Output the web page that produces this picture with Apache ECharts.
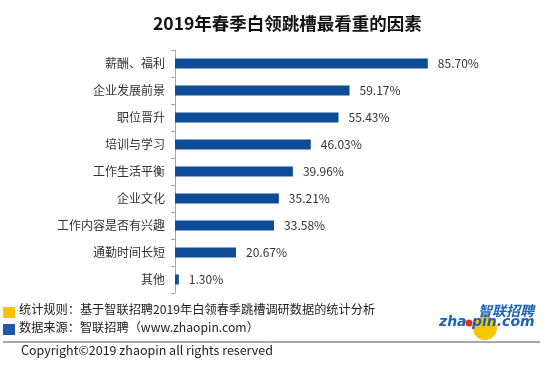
<!DOCTYPE html>
<html><head><meta charset="utf-8">
<script src="https://cdn.jsdelivr.net/npm/echarts@6/dist/echarts.min.js"></script>
<style>html,body{margin:0;padding:0;background:#fff}#c{width:550px;height:371px}</style>
</head><body><div id="c"></div>
<script>
const categories = ['薪酬、福利','企业发展前景','职位晋升','培训与学习','工作生活平衡','企业文化','工作内容是否有兴趣','通勤时间长短','其他'];
const values = [85.70, 59.17, 55.43, 46.03, 39.96, 35.21, 33.58, 20.67, 1.30];
const titleText = '2019年春季白领跳槽最看重的因素';
const note1 = '统计规则：基于智联招聘2019年白领春季跳槽调研数据的统计分析';
const note2 = '数据来源：智联招聘（www.zhaopin.com）';
const copyright = 'Copyright©2019 zhaopin all rights reserved';

const font = '"Microsoft YaHei","Noto Sans CJK SC",sans-serif';
const chart = echarts.init(document.getElementById('c'), null, {renderer:'canvas'});
chart.setOption({
  animation:false,
  backgroundColor:'#fff',
  title:{text:titleText,left:148,top:10,textStyle:{fontSize:17.5,fontWeight:'bold',color:'#111',fontFamily:font}},
  grid:{left:175,top:50,width:295,height:243},
  xAxis:{type:'value',min:0,max:100,show:false},
  yAxis:{type:'category',inverse:true,data:categories,
    axisLine:{lineStyle:{color:'#a6a6a6',width:1}},
    axisTick:{show:true,length:4,lineStyle:{color:'#a6a6a6'}},
    axisLabel:{color:'#333',fontSize:12,margin:10,fontFamily:font}},
  series:[{type:'bar',data:values,barWidth:10,itemStyle:{color:'#0f4c97'},
    label:{show:true,position:'right',distance:10,color:'#333',fontSize:12,fontFamily:font,
      formatter:p=>p.value.toFixed(2)+'%'}}],
  graphic:[
    {type:'rect',shape:{x:3,y:307,width:12,height:11},style:{fill:'#ffc000'}},
    {type:'text',x:19,y:309,style:{text:note1,font:'12.2px '+font,fill:'#222',verticalAlign:'middle'}},
    {type:'rect',shape:{x:3,y:324,width:12,height:11},style:{fill:'#1f5aa8'}},
    {type:'text',x:19,y:327,style:{text:note2,font:'12.2px '+font,fill:'#222',verticalAlign:'middle'}},
    {type:'line',shape:{x1:3,y1:342,x2:540,y2:342},style:{stroke:'#555',lineWidth:1}},
    {type:'text',x:21,y:350,style:{text:copyright,font:'12.5px '+font,fill:'#222',verticalAlign:'middle'}},
    {type:'circle',shape:{cx:485,cy:328,r:12},style:{fill:'#f7c600'}},
    {type:'circle',shape:{cx:469,cy:323,r:3.5},style:{fill:'#e0301e'}},
    {type:'text',x:478,y:311,style:{text:'智联招聘',font:'italic bold 14px '+font,fill:'#1b63b8',verticalAlign:'middle'}},
    {type:'text',x:439,y:322,style:{text:'zha',font:'italic bold 14px "DejaVu Sans",sans-serif',fill:'#1b63b8',verticalAlign:'middle'}},
    {type:'text',x:472,y:322,style:{text:'pin.com',font:'italic bold 14px "DejaVu Sans",sans-serif',fill:'#1b63b8',verticalAlign:'middle'}}
  ]
});
</script></body></html>
